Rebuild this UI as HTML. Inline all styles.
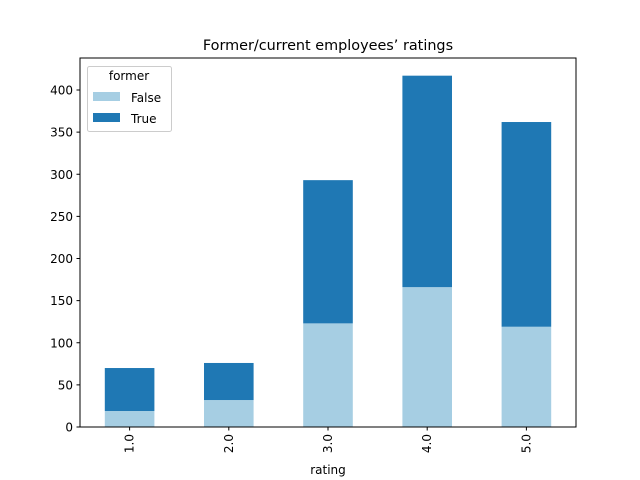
<!DOCTYPE html>
<html><head><meta charset="utf-8"><style>body{margin:0;background:#fff}svg{display:block;font-family:"DejaVu Sans","Liberation Sans",sans-serif}</style></head>
<body>
<svg id="chart" width="640" height="480" viewBox="0 0 640 480">
<text x="328" y="50" font-size="14.4" text-anchor="middle">Former/current employees’ ratings</text>
<g id="bars"></g>
<g id="axes"></g>
<rect x="80" y="58" width="496" height="369" fill="none" stroke="#000" stroke-width="1"/>
<text x="328" y="474" font-size="12" text-anchor="middle">rating</text>
<g>
<rect x="87.5" y="66.5" width="84" height="65" rx="2" fill="#fff" fill-opacity="0.8" stroke="#ccc"/>
<text x="129" y="80" font-size="12" text-anchor="middle">former</text>
<rect x="93" y="92" width="27" height="9" fill="#a6cee3"/>
<text x="131" y="102" font-size="12">False</text>
<rect x="93" y="113" width="27" height="9" fill="#1f78b4"/>
<text x="131" y="123" font-size="12">True</text>
</g>
</svg>
<script>
const categories = ["1.0","2.0","3.0","4.0","5.0"];
const falseValues = [19, 32, 123, 166, 119];
const trueValues = [51, 44, 170, 251, 243];
const yTicks = [0,50,100,150,200,250,300,350,400];
const NS="http://www.w3.org/2000/svg";
const L=80,R=576,B=427,ppu=(427-90)/400;
const y=v=>B-v*ppu;
const step=(R-L)/categories.length;
const x=i=>L+step*(i+0.5);
const bw=step*0.5;
const bars=document.getElementById('bars'), axes=document.getElementById('axes');
function mk(t,a,p){const e=document.createElementNS(NS,t);for(const k in a)e.setAttribute(k,a[k]);p.appendChild(e);return e;}
categories.forEach((c,i)=>{
  const f=falseValues[i], t=trueValues[i];
  const r1=mk('rect',{x:x(i)-bw/2,y:y(f),width:bw,height:f*ppu,fill:'#a6cee3'},bars);
  
  
  const r2=mk('rect',{x:x(i)-bw/2,y:y(f+t),width:bw,height:t*ppu,fill:'#1f78b4'},bars);
  
  
  mk('line',{x1:x(i),x2:x(i),y1:B,y2:B+3.5,stroke:'#000'},axes);
  const tx=mk('text',{x:0,y:0,'font-size':12,'text-anchor':'end',transform:`translate(${x(i)+4},${B+7}) rotate(-90)`},axes);
  tx.textContent=c;
  
  
});
yTicks.forEach(v=>{
  mk('line',{x1:L-3.5,x2:L,y1:y(v),y2:y(v),stroke:'#000'},axes);
  const tx=mk('text',{x:L-7,y:y(v)+4.5,'font-size':12,'text-anchor':'end'},axes);
  tx.textContent=v;
  
  
});
</script>
</body></html>
